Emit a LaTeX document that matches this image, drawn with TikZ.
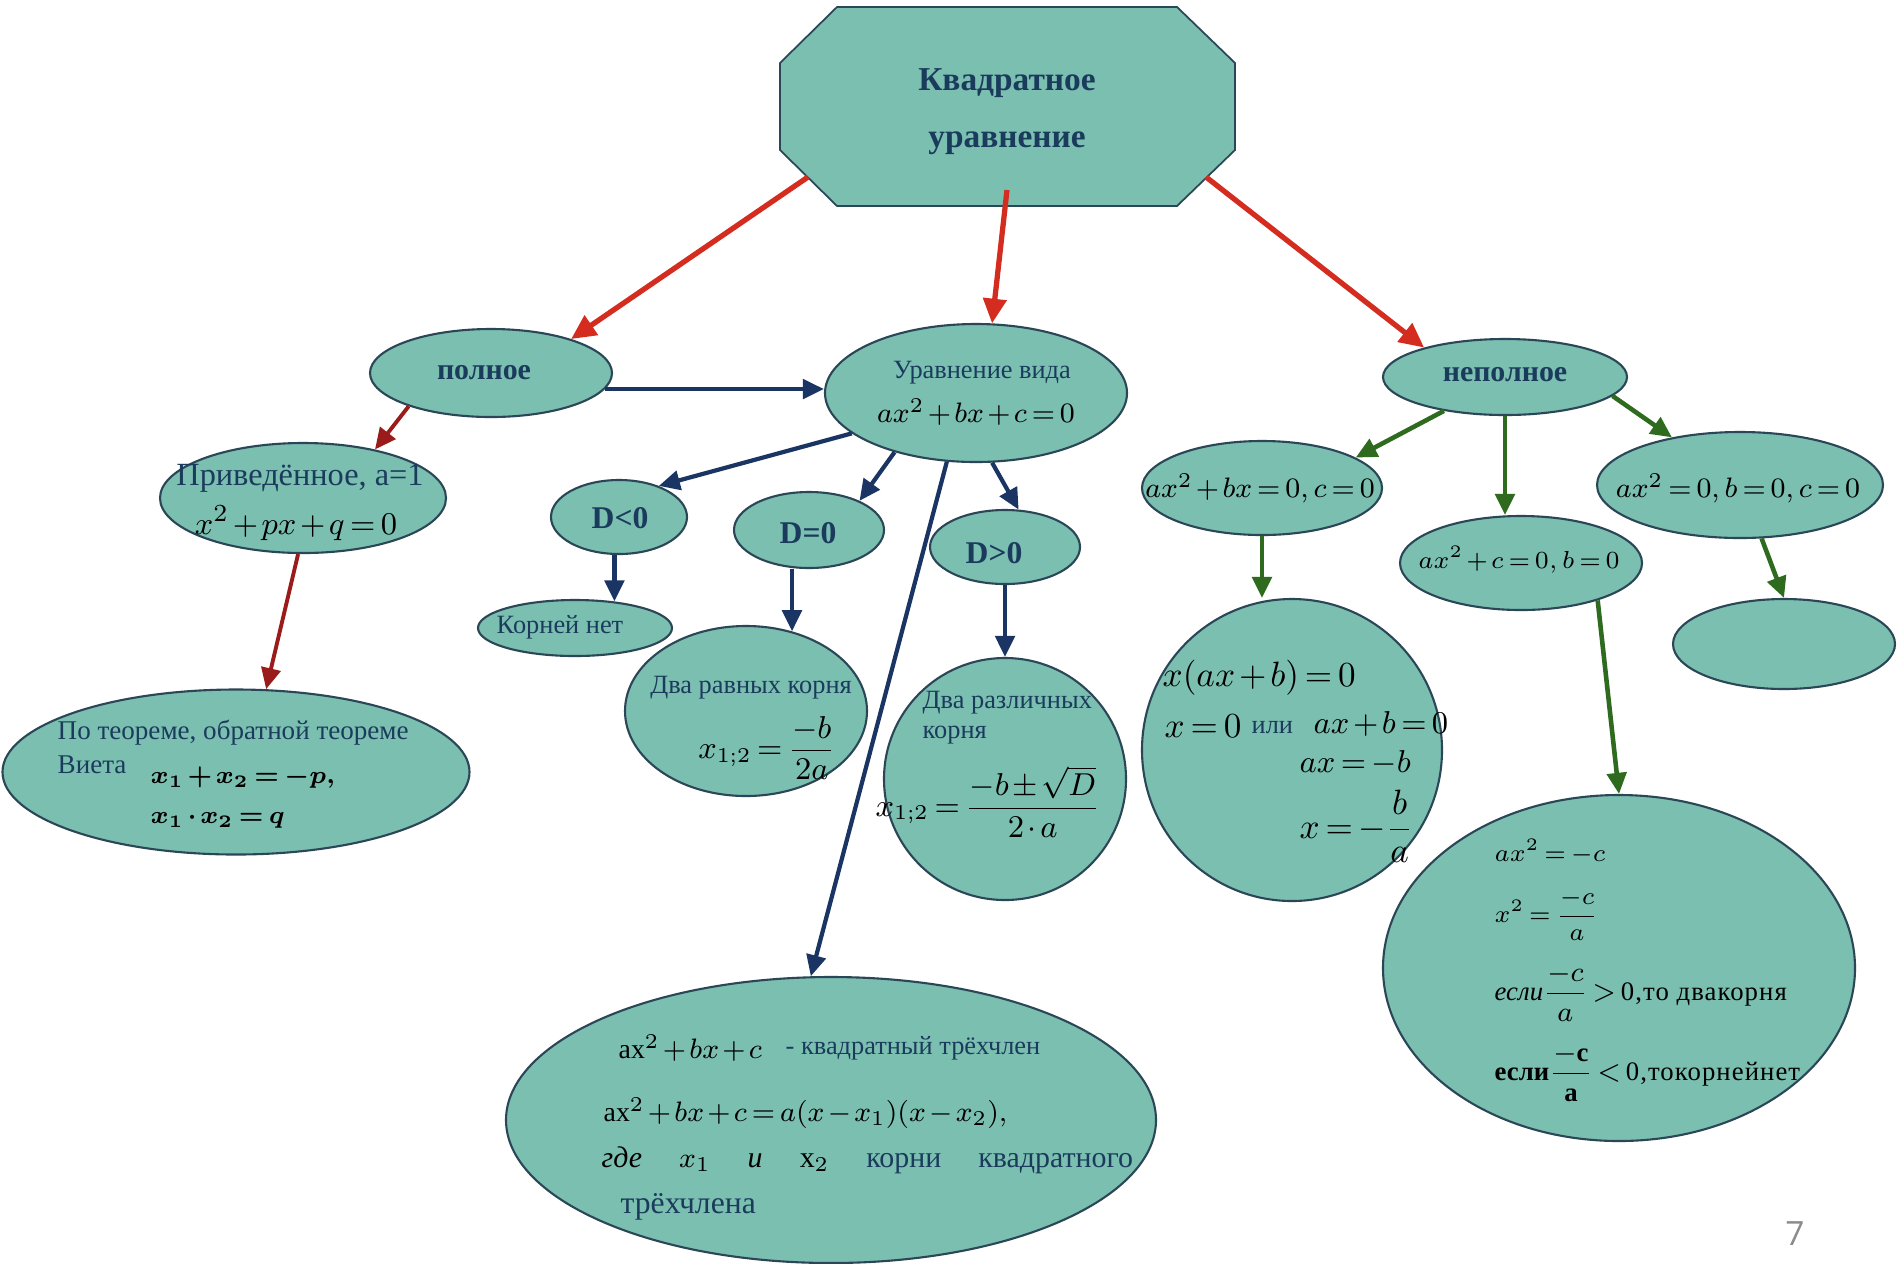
\documentclass[tikz,border=0pt]{standalone}
\usepackage{amsmath}
\usepackage{fontspec}
\setmainfont{Liberation Serif}
\newfontfamily\numfont{Open Sans}
\newfontfamily\spc[LetterSpace=4]{Liberation Serif}
\usetikzlibrary{shapes.geometric,arrows.meta}
\newcommand\fsz[1]{\fontsize{#1}{#1}\selectfont}
\thickmuskip=3mu plus 1mu
\medmuskip=2mu plus 1mu
\definecolor{fillc}{HTML}{7BBFB1}
\definecolor{edgec}{HTML}{2B4757}
\definecolor{txt}{HTML}{1B3B5C}
\definecolor{redc}{HTML}{D42C1F}
\definecolor{maroonc}{HTML}{9B1B1B}
\definecolor{navyc}{HTML}{1A3563}
\definecolor{greenc}{HTML}{2E6B1E}
\definecolor{pgray}{HTML}{8C8C8C}
\begin{document}
\begin{tikzpicture}[x=0.01cm,y=-0.01cm,
  el/.style={ellipse, draw=edgec, fill=fillc, line width=0.6pt, inner sep=0pt},
  sz/.style 2 args={minimum width=#1*0.01cm, minimum height=#2*0.01cm},
  lbl/.style={inner sep=0pt, text=txt},
  mth/.style={inner sep=0pt, text=black},
  redarr/.style={draw=redc, line width=1.5pt, -{Triangle[length=7pt,width=6.5pt]}},
  marr/.style={draw=maroonc, line width=1.1pt, -{Triangle[length=6pt,width=5.5pt]}},
  narr/.style={draw=navyc, line width=1.2pt, -{Triangle[length=6pt,width=5.5pt]}},
  garr/.style={draw=greenc, line width=1.3pt, -{Triangle[length=6pt,width=5.5pt]}}]
\fill[white] (0,0) rectangle (1897,1263);
\useasboundingbox (0,0) rectangle (1897,1263);
% octagon
\path[fill=fillc, draw=edgec, line width=0.5pt] (837,7) -- (1177,7) -- (1235,63) -- (1235,150) -- (1177,206) -- (837,206) -- (780,150) -- (780,63) -- cycle;
\node[lbl, font=\bfseries\fsz{9.5}] (top1) at (1007,83) {Квадратное};
\node[lbl, font=\bfseries\fsz{9.5}] (top2) at (1007,143) {уравнение};
\coordinate (octSW) at (808,177);
\coordinate (octS) at (1007,190);
\coordinate (octSE) at (1206,177);
% ellipses
\node[el, sz={242}{88}] (polnoe) at (491,373) {};
\node[el, sz={302}{138}] (urav) at (976,393) {};
\node[el, sz={244}{76}] (nepol) at (1505,377) {};
\node[el, sz={286}{110}] (priv) at (303,498) {};
\node[el, sz={467}{165}] (teor) at (236,772) {};
\node[el, sz={136}{74}] (dlt) at (619,517) {};
\node[el, sz={194}{56}] (kn) at (575,628) {};
\node[el, sz={150}{76}] (deq) at (809,530) {};
\node[el, sz={242}{170}] (ravn) at (746,711) {};
\node[el, sz={150}{74}] (dgt) at (1005,547) {};
\node[el, sz={242}{242}] (razl) at (1005,779) {};
\node[el, sz={650}{286}] (bot) at (831,1120) {};
\node[el, sz={240}{94}] (pbx) at (1262,488) {};
\node[el, sz={300}{302}] (xab) at (1292,750) {};
\node[el, sz={242}{94}] (pc) at (1521,563) {};
\node[el, sz={472}{346}] (mc) at (1619,968) {};
\node[el, sz={286}{106}] (p0) at (1740,485) {};
\node[el, sz={222}{90}] (emp) at (1784,644) {};
% texts
\node[lbl, font=\bfseries\fsz{8.5}] (tpol) at (484,373) {полное};
\node[lbl, font=\bfseries\fsz{8.5}] (tnep) at (1505,375) {неполное};
\node[lbl, font=\fsz{7.5}] (tur1) at (982,373) {Уравнение вида};
\node[mth, font=\fsz{8.3}] (tur2) at (976,412) {$ax^2+bx+c=0$};
\node[lbl, font=\fsz{9.2}] (tpr1) at (300,478) {Приведённое, а=1};
\node[mth, font=\fsz{9.5}] (tpr2) at (296,523) {$x^2+px+q=0$};
\node[lbl, font=\fsz{7.7}, anchor=west] (tte1) at (57,733) {По теореме, обратной теореме};
\node[lbl, font=\fsz{7.7}, anchor=west] (tte2) at (57,765) {Виета};
\node[mth, font=\fsz{7.5}\boldmath, anchor=west] (tte3) at (150,778) {$x_1+x_2=-p,$};
\node[mth, font=\fsz{7.5}\boldmath, anchor=west] (tte4) at (150,820) {$x_1\cdot x_2=q$};
\node[lbl, font=\bfseries\fsz{9}] (tdl) at (620,518) {D<0};
\node[lbl, font=\bfseries\fsz{9}] (tde) at (808,533) {D=0};
\node[lbl, font=\bfseries\fsz{9}] (tdg) at (994,553) {D>0};
\node[lbl, font=\fsz{7.5}] (tkn) at (560,627) {Корней нет};
\node[lbl, font=\fsz{7.5}] (trv1) at (751,688) {Два равных корня};
\node[mth, font=\fsz{8.6}] (trv2) at (767,748) {$x_{1;2}=\dfrac{-b}{2a}$};
\node[lbl, font=\fsz{7.5}, anchor=west] (trz1) at (922,703) {Два различных};
\node[lbl, font=\fsz{7.5}, anchor=west] (trz2) at (922,735) {корня};
\node[mth, font=\fsz{8.8}] (trz3) at (988,802) {$x_{1;2}=\dfrac{-b\pm\sqrt{D}}{2\cdot a}$};
% bottom ellipse
\node[mth, font=\fsz{7.9}, anchor=west] (tb1) at (618,1048) {$\mathrm{ax}^2+bx+c$};
\node[lbl, font=\fsz{7.5}, anchor=west] (tb2) at (785,1048) {- квадратный трёхчлен};
\node[mth, font=\fsz{7.9}, anchor=west] (tb3) at (603,1113) {$\mathrm{ax}^2+bx+c=a(x-x_1)(x-x_2),$};
\node[lbl, font=\fsz{8.5}, anchor=west] (tb4) at (601,1160) {\makebox[5.31cm][s]{\textcolor{black}{\textit{где} $x_1$ \textit{и} $\mathrm{x}_2$} корни квадратного}};
\node[lbl, font=\fsz{9}, anchor=west] (tb5) at (620,1207) {трёхчлена};
% right side
\node[mth, font=\fsz{8.5}] (tpbx) at (1260,488) {$ax^2+bx=0,c=0$};
\node[mth, font=\fsz{6.8}] (tpc) at (1519,560) {$ax^2+c=0,b=0$};
\node[mth, font=\fsz{8.2}] (tp0) at (1738,488) {$ax^2=0,b=0,c=0$};
\node[mth, font=\fsz{9.6}, anchor=west] (tx1) at (1162,678) {$x(ax+b)=0$};
\node[mth, font=\fsz{9.6}, anchor=west] (tx2) at (1164,726) {$x=0$};
\node[lbl, font=\fsz{7.5}, anchor=west] (tx3) at (1251,728) {или};
\node[mth, font=\fsz{8.7}, anchor=west] (tx4) at (1313,724) {$ax+b=0$};
\node[mth, font=\fsz{8.7}, anchor=west] (tx5) at (1299,763) {$ax=-b$};
\node[mth, font=\fsz{9.6}, anchor=west] (tx6) at (1299,826) {$x=-\dfrac{b}{a}$};
\node[mth, font=\fsz{6.8}, anchor=west] (tm1) at (1494,852) {$ax^2=-c$};
\node[mth, font=\fsz{6.8}, anchor=west] (tm2) at (1494,915) {$x^2=\dfrac{-c}{a}$};
\node[mth, font=\fsz{7.6}, anchor=west] (tm3) at (1494,993) {\textit{если}$\dfrac{-c}{a}>{}$\spc 0,то двакорня};
\node[mth, font=\fsz{7.6}, anchor=west] (tm4) at (1494,1073) {\textbf{если}$\dfrac{\mathbf{-c}}{\mathbf{a}}<{}$\spc 0,токорнейнет};
\node[inner sep=0pt, text=pgray, font=\numfont\fsz{9.5}] (pnum) at (1795,1234) {7};
% connectors
\draw[redarr] (octSW) -- (polnoe.23);
\draw[redarr] (octS) -- (urav.77);
\draw[redarr] (octSE) -- (nepol.160);
\draw[marr] (polnoe.202) -- (priv.34);
\draw[marr] (priv.265) -- (teor.70);
\draw[narr] (polnoe.-8) -- (polnoe.-8 -| urav.west);
\draw[narr] (urav.198) -- (dlt.38);
\draw[narr] (urav.216) -- (deq.30);
\draw[narr] (urav.-77) -- (dgt.70);
\draw[narr] (urav.247) -- (bot.98);
\draw[narr] (kn.34 |- dlt.south) -- (kn.34);
\draw[narr] (ravn.60 |- deq.south) -- (ravn.60);
\draw[narr] (dgt.south) -- (razl.north);
\draw[garr] (nepol.209) -- (pbx.18);
\draw[garr] (nepol.south) -- (nepol.south |- pc.north);
\draw[garr] (nepol.-10) -- (p0.145);
\draw[garr] (pbx.south) -- (pbx.south |- xab.north);
\draw[garr] (pc.-26) -- (mc.north);
\draw[garr] (p0.-68) -- (emp.north);
\end{tikzpicture}
\end{document}
